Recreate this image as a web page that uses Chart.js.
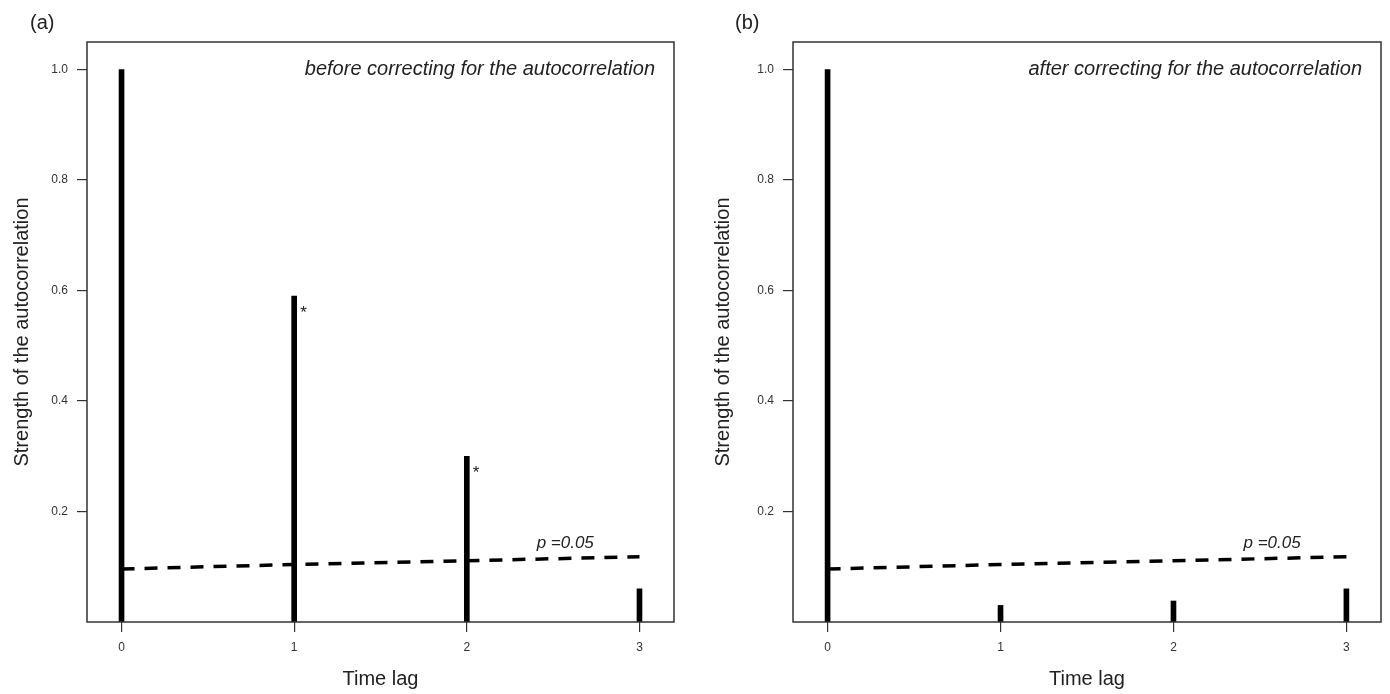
<!DOCTYPE html>
<html>
<head>
<meta charset="utf-8">
<script src="https://cdn.jsdelivr.net/npm/chart.js@4.4.0/dist/chart.umd.min.js"></script>
<style>
  body { margin: 0; background: #fff; }
  .panel { position: absolute; top: 0; width: 695px; height: 694px; }
</style>
</head>
<body>
<div class="panel" style="left:0"><canvas id="chartA" width="695" height="694"></canvas></div>
<div class="panel" style="left:695px"><canvas id="chartB" width="695" height="694"></canvas></div>
<script>
// ===== DATA =====
const lags = [0, 1, 2, 3];
const acfBefore = [1.0, 0.59, 0.30, 0.06];
const acfAfter = [1.0, 0.03, 0.038, 0.06];
const critLine = [0.096, 0.104, 0.111, 0.118];   // p = 0.05 threshold
const starsBefore = [1, 2];                       // significant lags
const starsAfter = [];
const yTicks = [0.2, 0.4, 0.6, 0.8, 1.0];

const FONT = '"Liberation Sans", Arial, Helvetica, sans-serif';

// box + annotations
const frame = {
  id: 'frame',
  afterDraw(chart, args, o) {
    const { ctx, chartArea: a, scales: { x, y } } = chart;
    const vals = chart.data.datasets[0].data;
    ctx.save();
    ctx.strokeStyle = '#333';
    ctx.lineWidth = 1.5;
    ctx.strokeRect(a.left, a.top, a.right - a.left, a.bottom - a.top);

    ctx.fillStyle = '#222';
    ctx.textBaseline = 'middle';
    ctx.font = '20px ' + FONT;
    ctx.textAlign = 'left';
    ctx.fillText(o.panel, o.panelX, 23);

    ctx.font = 'italic 20px ' + FONT;
    ctx.textAlign = 'right';
    ctx.fillText(o.note, a.right - 19, 69);

    ctx.font = 'italic 17px ' + FONT;
    ctx.textAlign = 'center';
    ctx.fillText('p =0.05', x.getPixelForValue(2.57), y.getPixelForValue(0.142));

    ctx.font = '17px ' + FONT;
    ctx.textAlign = 'left';
    ctx.textBaseline = 'top';
    o.stars.forEach(lag => {
      const px = x.getPixelForValue(lag);
      const py = y.getPixelForValue(vals[lag].y);
      ctx.fillText('*', px + 6, py + 9);
    });
    ctx.restore();
  }
};

function makeChart(id, values, stars, note, panel, opt) {
  return new Chart(document.getElementById(id).getContext('2d'), {
    type: 'bar',
    data: {
      datasets: [
        {
          type: 'bar',
          data: lags.map((l, i) => ({ x: l, y: values[i] })),
          backgroundColor: '#000',
          barThickness: 5,
          order: 2
        },
        {
          type: 'line',
          data: lags.map((l, i) => ({ x: l, y: critLine[i] })),
          borderColor: '#000',
          borderWidth: 3.5,
          borderDash: [13, 10],
          pointRadius: 0,
          fill: false,
          order: 1
        }
      ]
    },
    options: {
      responsive: false,
      animation: false,
      devicePixelRatio: 1,
      layout: { padding: { top: 42, right: opt.padRight, left: 0, bottom: 0 } },
      plugins: {
        legend: { display: false },
        tooltip: { enabled: false },
        frame: { note, panel, panelX: opt.panelX, stars }
      },
      scales: {
        x: {
          type: 'linear', min: -0.2, max: 3.2, offset: false,
          afterBuildTicks: s => { s.ticks = lags.map(v => ({ value: v })); },
          afterFit: s => { s.height = 72; },
          grid: { offset: false, drawOnChartArea: false, tickLength: 10, color: '#333', lineWidth: 1.2 },
          border: { display: false },
          ticks: { color: '#333', font: { family: FONT, size: 12 }, padding: 8 },
          title: { display: true, text: 'Time lag', color: '#222',
                   font: { family: FONT, size: 20 }, padding: { top: 0, bottom: 3 } }
        },
        y: {
          min: 0, max: 1.05,
          afterBuildTicks: s => { s.ticks = yTicks.map(v => ({ value: v })); },
          afterFit: s => { s.width = opt.yWidth; },
          grid: { drawOnChartArea: false, tickLength: 10, color: '#333', lineWidth: 1.2 },
          border: { display: false },
          ticks: { color: '#333', font: { family: FONT, size: 12 }, padding: 9,
                   callback: v => v.toFixed(1) },
          title: { display: true, text: 'Strength of the autocorrelation', color: '#222',
                   font: { family: FONT, size: 20 }, padding: { top: opt.titlePad, bottom: 0 } }
        }
      }
    },
    plugins: [frame]
  });
}

makeChart('chartA', acfBefore, starsBefore, 'before correcting for the autocorrelation', '(a)',
  { padRight: 21, yWidth: 87, titlePad: 10, panelX: 30 });
makeChart('chartB', acfAfter, starsAfter, 'after correcting for the autocorrelation', '(b)',
  { padRight: 9, yWidth: 98, titlePad: 16, panelX: 40 });
</script>
</body>
</html>
